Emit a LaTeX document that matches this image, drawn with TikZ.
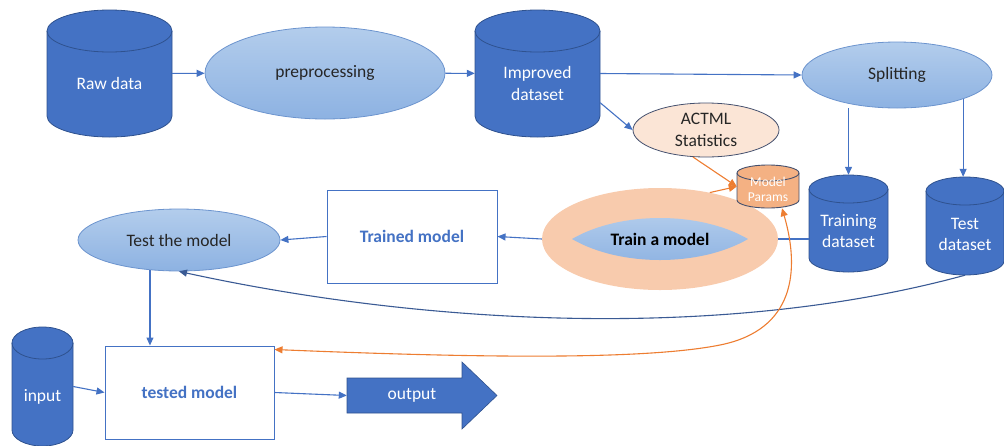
\documentclass[tikz,border=0pt]{standalone}
\usepackage{fontspec}
\setmainfont{Carlito}
\usetikzlibrary{arrows.meta,shapes.geometric}

\definecolor{dbblue}{HTML}{4472C4}
\definecolor{dbedge}{HTML}{2F528F}
\definecolor{lbtop}{HTML}{B3CDEC}
\definecolor{lbbot}{HTML}{8DB2E2}
\definecolor{lbedge}{HTML}{6C94CE}
\definecolor{peach}{HTML}{F8CBAD}
\definecolor{paleorange}{HTML}{FBE5D6}
\definecolor{parfill}{HTML}{F4B183}
\definecolor{paredge}{HTML}{44506E}
\definecolor{orange1}{HTML}{ED7D31}
\definecolor{txtdark}{HTML}{262626}
\definecolor{curveblue}{HTML}{3A5A94}

\tikzset{
  db cyl/.style={fill=dbblue, draw=dbedge, line width=0.8pt},
  db txt/.style={text=white, font=\fontsize{17.5}{21.5}\selectfont},
  par cyl/.style={fill=parfill, draw=paredge, line width=0.9pt},
  par txt/.style={text=white, font=\fontsize{13.5}{15}\selectfont},
  cylnode/.style={rectangle, draw=none, inner sep=0pt},
  ell/.style={ellipse, inner sep=0pt, top color=lbtop, bottom color=lbbot,
    draw=lbedge, line width=0.8pt, text=txtdark,
    font=\fontsize{17.5}{21.5}\selectfont},
  box/.style={rectangle, draw=dbblue, line width=1pt, fill=white, text=dbblue,
    font=\fontsize{17.5}{21.5}\selectfont\bfseries},
  tip/.style={-{Triangle[length=8pt,width=7pt]}},
  conn/.style={draw=dbblue, line width=1.1pt, tip},
  oconn/.style={draw=orange1, line width=1.1pt, tip},
}

% database cylinder: name, x0, x1, ytop, ybottom, end radius, kind, text drop, text
\newcommand\dbcyl[9]{%
  \path[#7 cyl] (#2,#4+#6) -- (#2,#5-#6)
    arc[start angle=180,end angle=360,x radius={(#3-#2)/2*1pt},y radius={#6*1pt}]
    -- (#3,#4+#6)
    arc[start angle=0,end angle=180,x radius={(#3-#2)/2*1pt},y radius={#6*1pt}] -- cycle;
  \path[#7 cyl,fill=none] (#2,#4+#6)
    arc[start angle=180,end angle=360,x radius={(#3-#2)/2*1pt},y radius={#6*1pt}];
  \node[cylnode,#7 txt,minimum width={(#3-#2)*1pt},minimum height={(#5-#4)*1pt}]
    (#1) at ({(#2+#3)/2},{(#4+#5)/2})
    {\raisebox{-#8pt}[\height][\depth]{\begin{tabular}{@{}c@{}}#9\end{tabular}}};
}

\begin{document}
\begin{tikzpicture}[x=1pt,y=-1pt]
\useasboundingbox (0,0) rectangle (1004,445);
\clip (0,0) rectangle (1004,445);

% data stores
\dbcyl{raw}{47}{172}{10}{137}{21}{db}{12}{Raw data}
\dbcyl{improved}{475}{600}{10}{137}{21}{db}{11.5}{Improved\\dataset}
\dbcyl{training}{809}{888}{175}{272}{14}{db}{9}{Training\\dataset}
\dbcyl{testdb}{926}{1004}{177}{275}{14}{db}{9.5}{Test\\dataset}
\dbcyl{input}{12}{73}{327}{446}{16}{db}{11}{input}

% process steps
\node[ell, minimum width=240pt, minimum height=92pt] (pre) at (325,73) {preprocessing};
\node[ell, minimum width=190pt, minimum height=66pt] (split) at (897,75) {Splitting};
\node[ell, minimum width=202pt, minimum height=62pt] (testm) at (179,240) {Test the model};
\node[ellipse, inner sep=0pt, fill=paleorange, draw=paredge, line width=0.8pt,
      minimum width=146pt, minimum height=54pt, align=center, text=txtdark,
      font=\fontsize{17.5}{21.5}\selectfont] (actml) at (706,130) {ACTML\\Statistics};

% training step: peach ring around a lens-shaped core
\node[ellipse, inner sep=0pt, fill=peach, minimum width=236pt, minimum height=102pt]
  (train) at (660,239) {};
\path[top color=lbtop, bottom color=lbbot]
  (572,239) .. controls (620,211) and (700,211) .. (748,239)
            .. controls (700,267) and (620,267) .. (572,239) -- cycle;
\node[text=black, font=\fontsize{17.5}{21.5}\selectfont\bfseries] (traintext)
  at (train.center) {Train a model};

\dbcyl{params}{737}{799}{165}{208}{8}{par}{4}{Model\\Params}

% model boxes
\node[box, minimum width=170pt, minimum height=93pt] (trained) at (412,236.5) {Trained model};
\node[box, minimum width=169pt, minimum height=93pt] (tested) at (189.5,392.5) {tested model};

% output arrow
\path[fill=dbblue, draw=dbedge, line width=0.6pt]
  (347,378) -- (462,378) -- (462,362) -- (497,395.5) -- (462,429) -- (462,413) -- (347,413) -- cycle;
\node[cylnode, text=white, font=\fontsize{17.5}{21.5}\selectfont,
      minimum width=130pt, minimum height=35pt] (output) at (412,395.5) {output};

% connectors
\draw[conn] (raw) -- (pre);
\draw[conn] (pre) -- (improved);
\draw[conn] (improved.east) -- (split.west);
\draw[conn] (improved.-25) -- (actml.west);
\draw[conn] (training.north |- split.south) -- (training.north);
\draw[conn] (split.-20) -- (split.-20 |- testdb.north);
\draw[draw=dbblue, line width=1.1pt] (training.west |- train.east) -- (train.east);
\draw[conn] (train.west) -- (trained.east);
\draw[conn] (trained.west) -- (testm.east);
\draw[conn] (testm.-134) -- (testm.-134 |- tested.north);
\draw[conn] (input.east) -- (tested.west);
\draw[conn] (tested.east) -- (output.west);
\draw[conn, draw=curveblue] (testdb.south) .. controls (720,342) and (420,324) .. (testm.south);

\draw[oconn] (actml.-116) -- (params.west);
\draw[oconn] (train.43) -- (params.west);
\draw[oconn, {Triangle[length=8pt,width=7pt]}-{Triangle[length=8pt,width=7pt]}]
  ([xshift=14pt]params.south) .. controls (800,270) and (795,330) .. (720,345)
  .. controls (645,360) and (480,358) .. ([yshift=-4pt]tested.north east);
\end{tikzpicture}
\end{document}
